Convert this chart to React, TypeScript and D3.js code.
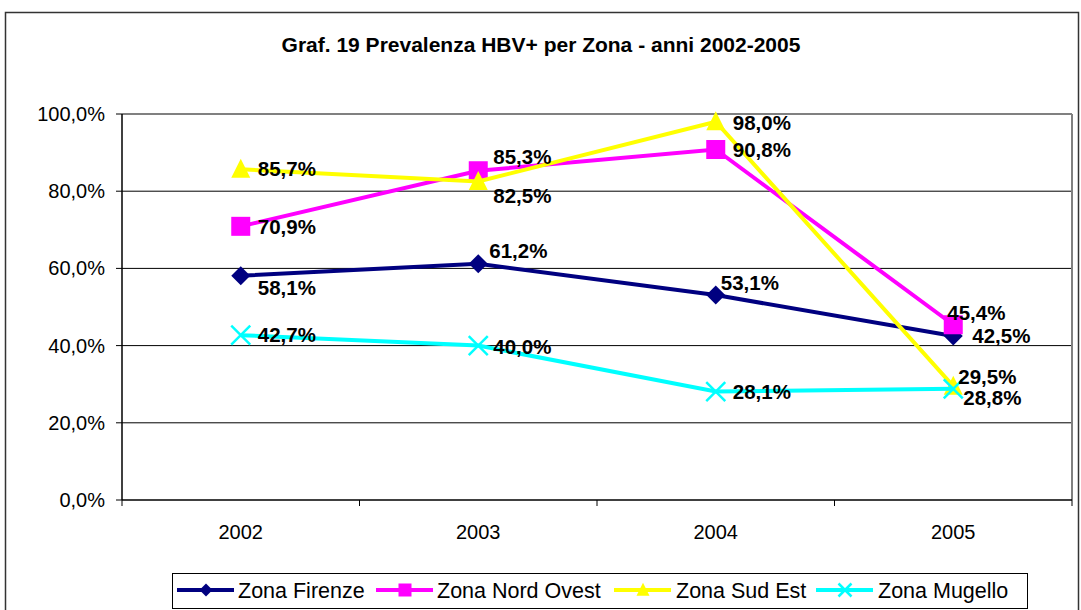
import React from "react";
import * as d3 from "d3";

const width = 1081;
const height = 610;

const title = "Graf. 19 Prevalenza HBV+ per Zona - anni 2002-2005";
const years = ["2002", "2003", "2004", "2005"];
const yTicks = [0, 0.2, 0.4, 0.6, 0.8, 1];

const firenze = [58.1, 61.2, 53.1, 42.5];
const nordOvest = [70.9, 85.3, 90.8, 45.4];
const sudEst = [85.7, 82.5, 98.0, 29.5];
const mugello = [42.7, 40.0, 28.1, 28.8];

// hand-placed label nudges, like the original sheet
const firenzeLabelOffsets = [[17, 12], [11, -13], [5, -12], [19, 0]];
const nordOvestLabelOffsets = [[17, 0], [15, -14], [17, 0], [-6, -12]];
const sudEstLabelOffsets = [[17, 0], [15, 14], [17, 1], [5, -9]];
const mugelloLabelOffsets = [[17, 0], [15, 1], [17, 0], [10, 9]];

const series = [
  { name: "Zona Firenze", values: firenze, color: "#000080", marker: "diamond", offsets: firenzeLabelOffsets },
  { name: "Zona Nord Ovest", values: nordOvest, color: "#FF00FF", marker: "square", offsets: nordOvestLabelOffsets },
  { name: "Zona Sud Est", values: sudEst, color: "#FFFF00", marker: "triangle", offsets: sudEstLabelOffsets },
  { name: "Zona Mugello", values: mugello, color: "#00FFFF", marker: "x", offsets: mugelloLabelOffsets },
];

const plot = { left: 122, right: 1072, top: 114, bottom: 500 };

const x = d3.scaleBand().domain(years).range([plot.left, plot.right]).padding(0);
const y = d3.scaleLinear().domain([0, 1]).range([plot.bottom, plot.top]);

const fmtPct = (v: number) => v.toFixed(1).replace(".", ",") + "%";
const cx = (i: number) => (x(years[i]) as number) + x.bandwidth() / 2;

const lineGen = d3
  .line<number>()
  .x((_, i) => cx(i))
  .y((v) => y(v / 100));

const Marker = ({ type, px, py, color, s }: { type: string; px: number; py: number; color: string; s: number }) => {
  if (type === "diamond") {
    const p = d3.symbol().type(d3.symbolSquare).size(s * s * 0.5)();
    return <path d={p as string} transform={`translate(${px},${py}) rotate(45)`} fill={color} />;
  }
  if (type === "square") {
    return <rect x={px - s / 2} y={py - s / 2} width={s} height={s} fill={color} />;
  }
  if (type === "triangle") {
    const h = s;
    return (
      <path
        d={`M${px},${py - h * 0.55}L${px + s / 2},${py + h * 0.45}L${px - s / 2},${py + h * 0.45}Z`}
        fill={color}
      />
    );
  }
  const r = s / 2;
  return (
    <g stroke={color} strokeWidth={2.5}>
      <line x1={px - r} y1={py - r} x2={px + r} y2={py + r} />
      <line x1={px - r} y1={py + r} x2={px + r} y2={py - r} />
    </g>
  );
};

const legendItems = [
  { x: 177, tx: 238 },
  { x: 376, tx: 437 },
  { x: 614, tx: 676 },
  { x: 816, tx: 878 },
];

const App = () => {
  return (
    <svg
      width={width}
      height={height}
      style={{ position: "absolute", left: 0, top: 0, background: "#fff" }}
      fontFamily="'Liberation Sans', Arial, sans-serif"
    >
      <rect x={5.5} y={12.5} width={1073} height={620} fill="#fff" stroke="#333" strokeWidth={1.5} />
      <text x={541} y={52} textAnchor="middle" fontSize={21} fontWeight="bold">
        {title}
      </text>

      {/* grid */}
      {yTicks.slice(1, -1).map((t) => (
        <line key={t} x1={plot.left} x2={plot.right} y1={y(t)} y2={y(t)} stroke="#000" strokeWidth={1} />
      ))}
      <line x1={plot.left} x2={plot.right} y1={plot.top} y2={plot.top} stroke="#808080" strokeWidth={2} />
      <line x1={plot.right} x2={plot.right} y1={plot.top} y2={plot.bottom} stroke="#808080" strokeWidth={2} />

      {/* y axis */}
      <line x1={plot.left} x2={plot.left} y1={plot.top} y2={plot.bottom} stroke="#000" strokeWidth={1.5} />
      {yTicks.map((t) => (
        <g key={t}>
          <line x1={plot.left - 6} x2={plot.left} y1={y(t)} y2={y(t)} stroke="#000" />
          <text x={105} y={y(t)} dy="0.35em" textAnchor="end" fontSize={20}>
            {fmtPct(t * 100)}
          </text>
        </g>
      ))}

      {/* x axis */}
      <line x1={plot.left} x2={plot.right} y1={plot.bottom} y2={plot.bottom} stroke="#000" strokeWidth={1.5} />
      {years.concat(["end"]).map((yr, i) => {
        const px = i < years.length ? (x(yr) as number) : plot.right;
        return <line key={yr} x1={px} x2={px} y1={plot.bottom} y2={plot.bottom + 6} stroke="#000" />;
      })}
      {years.map((yr, i) => (
        <text key={yr} x={cx(i)} y={539} textAnchor="middle" fontSize={20}>
          {yr}
        </text>
      ))}

      {/* series */}
      {series.map((s) => (
        <g key={s.name}>
          <path d={lineGen(s.values) as string} fill="none" stroke={s.color} strokeWidth={4} />
          {s.values.map((v, i) => (
            <Marker key={i} type={s.marker} px={cx(i)} py={y(v / 100)} color={s.color} s={19} />
          ))}
        </g>
      ))}
      {series.map((s) =>
        s.values.map((v, i) => (
          <text
            key={s.name + i}
            x={cx(i) + s.offsets[i][0]}
            y={y(v / 100) + s.offsets[i][1]}
            dy="0.35em"
            fontSize={20.5}
            fontWeight="bold"
          >
            {fmtPct(v)}
          </text>
        ))
      )}

      {/* legend */}
      <rect x={172.5} y={573.5} width={855} height={35} fill="#fff" stroke="#000" strokeWidth={1} />
      {series.map((s, i) => (
        <g key={s.name}>
          <line
            x1={legendItems[i].x}
            x2={legendItems[i].x + 57}
            y1={590}
            y2={590}
            stroke={s.color}
            strokeWidth={4}
          />
          <Marker type={s.marker} px={legendItems[i].x + 29} py={590} color={s.color} s={13} />
          <text x={legendItems[i].tx} y={590} dy="0.36em" fontSize={21.5}>
            {s.name}
          </text>
        </g>
      ))}
    </svg>
  );
};

export default App;
